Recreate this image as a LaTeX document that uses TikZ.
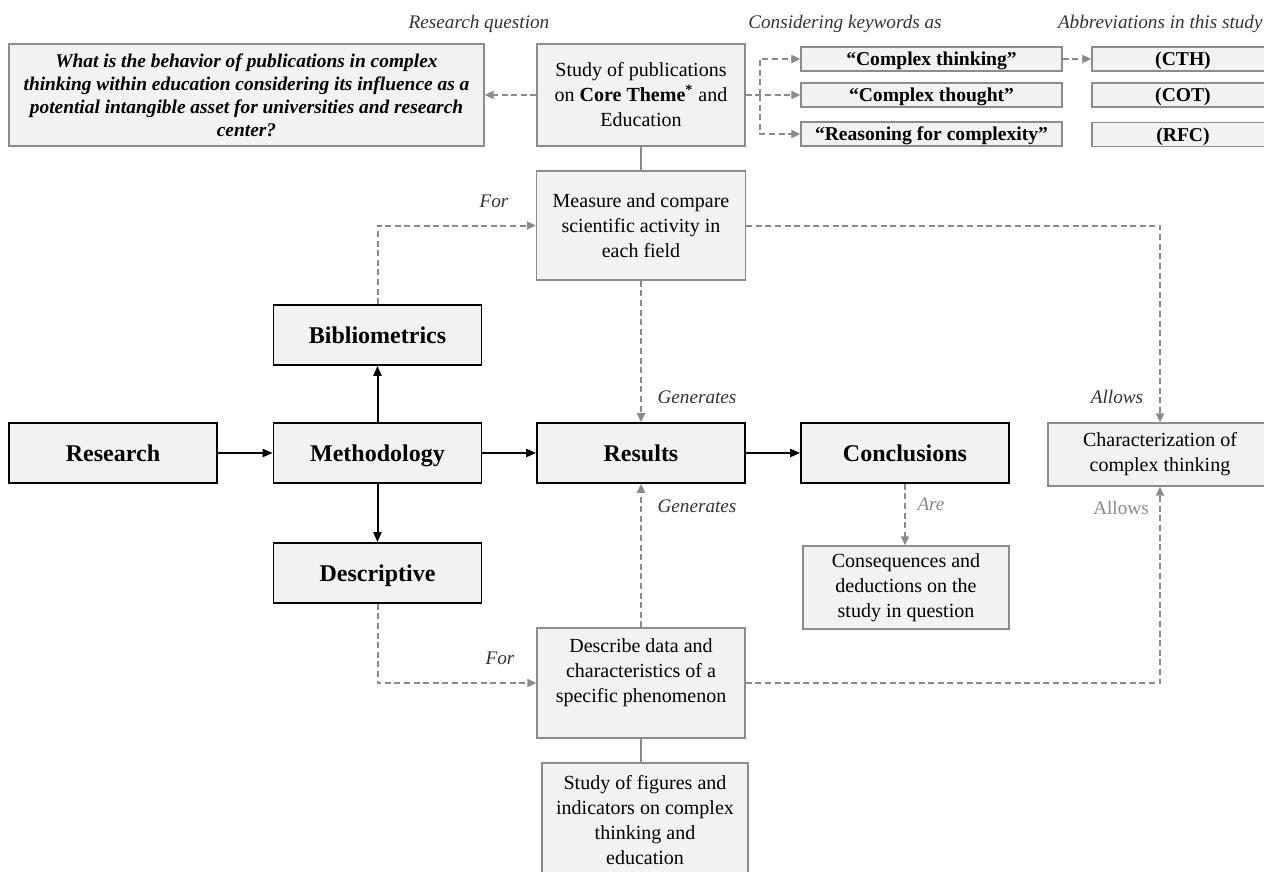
\documentclass[tikz,border=0pt]{standalone}
\usepackage{fontspec}
\setmainfont{Liberation Serif}
\usetikzlibrary{arrows.meta}
\definecolor{boxfill}{HTML}{F2F2F2}
\definecolor{gline}{HTML}{8A8A8A}
\definecolor{gbord}{HTML}{8C8C8C}
\definecolor{lbl}{HTML}{333333}
\begin{document}
\begin{tikzpicture}[x=0.5pt,y=-0.5pt,
  mainbox/.style={draw=black, line width=0.8pt, fill=boxfill, inner sep=0pt,
    minimum width=104pt, minimum height=30pt, text height=9.5pt, text depth=1.5pt,
    font=\fontsize{12}{14}\selectfont\bfseries},
  subbox/.style={draw=gbord, line width=0.7pt, fill=boxfill, inner sep=0pt, align=center,
    font=\fontsize{10}{12.5}\selectfont},
  kwbox/.style={subbox, minimum width=130.5pt, minimum height=12pt, text height=7.8pt, text depth=1.2pt,
    font=\fontsize{9.8}{11}\selectfont\bfseries},
  lab/.style={font=\fontsize{9.6}{11}\selectfont\itshape, text=lbl, inner sep=0pt},
  glab/.style={lab, text=gline},
  solidarrow/.style={draw=black, line width=1pt, -{Triangle[length=5pt,width=4pt]}},
  darrow/.style={draw=gline, line width=1pt, dash pattern=on 3pt off 1.8pt, -{Triangle[length=4.5pt,width=4pt]}},
  gsolid/.style={draw=gline, line width=1pt}]
\useasboundingbox[fill=white] (0,0) rectangle (1264,872);

% main flow
\node[mainbox] (research) at (113,453) {Research};
\node[mainbox] (meth) at (377.5,453) {Methodology};
\node[mainbox] (biblio) at (377.5,335) {Bibliometrics};
\node[mainbox] (descr) at (377.5,573) {Descriptive};
\node[mainbox] (results) at (641,453) {Results};
\node[mainbox] (concl) at (905,453) {Conclusions};

% grey boxes
\node[subbox, minimum width=237.5pt, minimum height=51pt, font=\fontsize{9.7}{11.5}\selectfont\bfseries\itshape] (question) at (246.5,95)
  {What is the behavior of publications in complex\\thinking within education considering its influence as a\\potential intangible asset for universities and research\\center?};
\node[subbox, minimum width=104pt, minimum height=51pt] (study) at (641,95)
  {Study of publications\\on \textbf{Core Theme\textsuperscript{*}} and\\Education};
\node[subbox, minimum width=104.5pt, minimum height=54.5pt] (measure) at (641,225.5)
  {Measure and compare\\scientific activity in\\each field};
\node[subbox, minimum width=104pt, minimum height=55pt] (describe) at (641,683)
  {Describe data and\\characteristics of a\\specific phenomenon\\\mbox{}};
\node[subbox, minimum width=103pt, minimum height=57pt] (figures) at (645,820)
  {Study of figures and\\indicators on complex\\thinking and\\education};
\node[subbox, minimum width=103pt, minimum height=41.5pt] (conseq) at (906,587.5)
  {Consequences and\\deductions on the\\study in question};
\node[subbox, minimum width=112pt, minimum height=31.5pt] (charact) at (1160,454.5)
  {Characterization of\\complex thinking};

% keywords and abbreviations
\node[kwbox] (kw1) at (931.5,59) {``Complex thinking''};
\node[kwbox] (kw2) at (931.5,95) {``Complex thought''};
\node[kwbox] (kw3) at (931.5,134) {``Reasoning for complexity''};
\node[kwbox, minimum width=91pt] (ab1) at (1183,59) {(CTH)};
\node[kwbox, minimum width=91pt] (ab2) at (1183,95) {(COT)};
\node[kwbox, minimum width=91pt] (ab3) at (1183,134.5) {(RFC)};

% labels
\node[lab] (l1) at (479,24) {Research question};
\node[lab] (l2) at (845,24) {Considering keywords as};
\node[lab, anchor=east] (l3) at (1263,24) {Abbreviations in this study};
\node[lab] (l4) at (494,201) {For};
\node[lab] (l5) at (500,658) {For};
\node[lab] (l6) at (697,397) {Generates};
\node[lab] (l7) at (697,506) {Generates};
\node[glab] (l8) at (931,504) {Are};
\node[lab] (l9) at (1117,397) {Allows};
\node[glab, font=\fontsize{9.6}{11}\selectfont\upshape] (l10) at (1121,508) {Allows};

% connectors
\draw[solidarrow] (research) -- (meth);
\draw[solidarrow] (meth) -- (results);
\draw[solidarrow] (results) -- (concl);
\draw[solidarrow] (meth) -- (biblio);
\draw[solidarrow] (meth) -- (descr);
\draw[darrow] (study) -- (question);
\draw[gsolid] (study) -- (measure);
\draw[darrow] (biblio.north) |- (measure.west);
\draw[darrow] (measure) -- (results);
\draw[darrow] (describe) -- (results);
\draw[gsolid] (describe.south) -- (describe.south |- figures.north);
\draw[darrow] (descr.south) |- (describe.west);
\draw[darrow] (measure.east) -| (charact.north);
\draw[darrow] (describe.east) -| (charact.south);
\draw[darrow] (concl.south) -- (concl.south |- conseq.north);
\coordinate (jn) at (760,95);
\draw[darrow] (study.east) -- (kw2.west);
\draw[darrow] (jn) |- (kw1.west);
\draw[darrow] (jn) |- (kw3.west);
\draw[darrow] (kw1) -- (ab1);
\end{tikzpicture}
\end{document}
